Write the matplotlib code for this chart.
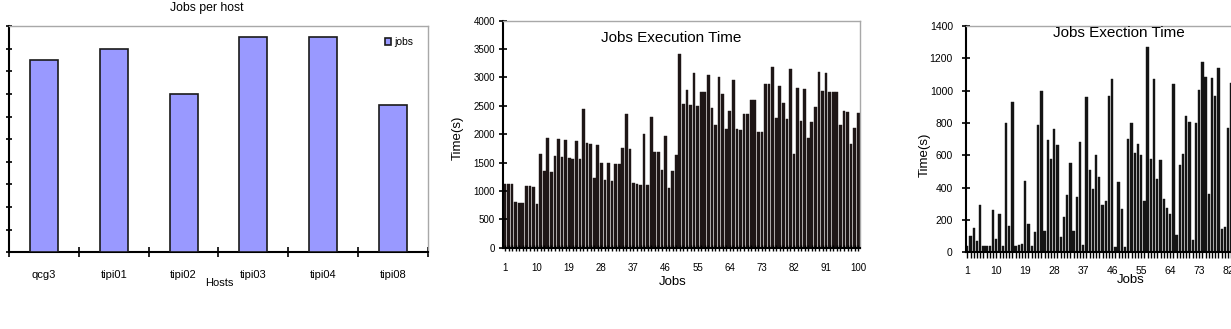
import matplotlib
matplotlib.use('Agg')
import matplotlib.pyplot as plt
import numpy as np

W, H = 1231, 329
plt.rcParams['font.family'] = ['Liberation Sans', 'DejaVu Sans']

# ---------------- data ----------------
hosts = ['qcg3', 'tipi01', 'tipi02', 'tipi03', 'tipi04', 'tipi08']
jobs_per_host = [17, 18, 14, 19, 19, 13]

exec_time_a = [
    1120, 1120, 1120, 800, 790, 790, 1080, 1080, 1075, 765,
    1655, 1350, 1930, 1330, 1610, 1920, 1595, 1900, 1580, 1570,
    1880, 1560, 2450, 1840, 1830, 1220, 1810, 1500, 1185, 1490,
    1180, 1470, 1470, 1760, 2350, 1745, 1135, 1125, 1110, 2010,
    1105, 2300, 1695, 1685, 1370, 1970, 1060, 1350, 1640, 3420,
    2530, 2785, 2510, 3070, 2495, 2750, 2750, 3040, 2460, 2160,
    3010, 2700, 2100, 2400, 2955, 2090, 2075, 2358, 2358, 2610,
    2605, 2033, 2030, 2887, 2885, 3190, 2285, 2858, 2545, 2268,
    3150, 1648, 2812, 2240, 2800, 1925, 2210, 2475, 3090, 2762,
    3078, 2750, 2740, 2735, 2162, 2410, 2398, 1820, 2105, 2365,
]

exec_time_b = [
    40, 100, 150, 70, 290, 40, 40, 40, 260, 85,
    235, 40, 800, 160, 930, 40, 45, 50, 440, 175,
    40, 125, 790, 995, 130, 695, 580, 760, 665, 95,
    220, 355, 550, 130, 345, 680, 45, 960, 510, 390,
    605, 465, 290, 320, 965, 1075, 35, 435, 265, 35,
    700, 800, 612, 670, 605, 315, 1270, 580, 1075, 452,
    572, 330, 277, 240, 1040, 110, 540, 608, 843, 808,
    77, 801, 1003, 1175, 1085, 358, 1080, 968, 1142, 143,
    158, 770, 1048,
]

n_jobs = 100
job_tick_labels = [1, 10, 19, 28, 37, 46, 55, 64, 73, 82, 91, 100]

# ---------------- helpers ----------------
fig = plt.figure(figsize=(W / 100, H / 100), dpi=100)


def ax_px(l, t, r, b):
    return fig.add_axes([l / W, 1 - b / H, (r - l) / W, (b - t) / H])


def ftext(x, y, s, **kw):
    fig.text(x / W, 1 - y / H, s, ha='center', va='center', **kw)


GRAY = '#a8a8a8'


def style_spines(ax):
    ax.spines['left'].set_color('black')
    ax.spines['left'].set_linewidth(1.5)
    ax.spines['bottom'].set_color('black')
    ax.spines['bottom'].set_linewidth(1.5)
    ax.spines['top'].set_color(GRAY)
    ax.spines['right'].set_color(GRAY)
    ax.spines['top'].set_linewidth(1.0)
    ax.spines['right'].set_linewidth(1.0)


# ---------------- panel 1 ----------------
ax1 = ax_px(9.3, 26, 427.7, 252.3)
xh = np.arange(len(hosts))
ax1.bar(xh, jobs_per_host, width=0.4, color='#9999ff', edgecolor='#1a1a1a',
        linewidth=1.2, label='jobs', zorder=3)
ax1.set_xlim(-0.5, len(hosts) - 0.5)
ax1.set_ylim(0, 20)
ax1.set_yticks(range(0, 21, 2))
ax1.set_yticklabels([])
ax1.set_xticks(np.arange(-0.5, len(hosts), 1.0))
ax1.set_xticklabels([])
ax1.set_xticks(xh, minor=True)
ax1.set_xticklabels(hosts, minor=True)
ax1.tick_params(axis='y', direction='inout', length=5, width=1.2)
ax1.tick_params(axis='x', which='major', direction='inout', length=6.5, width=1.2)
ax1.tick_params(axis='x', which='minor', length=0, pad=12.5, labelsize=8)
style_spines(ax1)
ax1.legend(loc='upper left', bbox_to_anchor=(385 / W, 1 - 37 / H),
           bbox_transform=fig.transFigure, frameon=False, fontsize=7.5,
           handlelength=0.6, handleheight=0.6, handletextpad=0.25,
           borderpad=0, borderaxespad=0)
ftext(207, 7.5, 'Jobs per host', fontsize=8.8)
ftext(219, 283, 'Hosts', fontsize=8)

# ---------------- panel 2 ----------------
ax2 = ax_px(503.2, 20.7, 860, 247.7)
xj = np.arange(1, len(exec_time_a) + 1)
ax2.bar(xj, exec_time_a, width=0.76, color='#1e1616', edgecolor='#1e1616',
        linewidth=0.3)
ax2.set_xlim(0.5, n_jobs + 0.5)
ax2.set_ylim(0, 4000)
ax2.set_yticks(range(0, 4001, 500))
ax2.set_xticks(np.arange(1, n_jobs + 1))
ax2.set_xticklabels([str(i) if i in job_tick_labels else ''
                     for i in range(1, n_jobs + 1)])
ax2.tick_params(axis='x', direction='inout', length=5, width=1.0, pad=8.5,
                labelsize=7)
ax2.tick_params(axis='y', direction='inout', length=6, width=1.2, pad=3,
                labelsize=7)
style_spines(ax2)
ftext(671, 38, 'Jobs Execution Time', fontsize=11)
ftext(673, 282, 'Jobs', fontsize=9.5)
ftext(458, 138, 'Time(s)', rotation=90, fontsize=9.5)

# ---------------- panel 3 ----------------
ax3 = ax_px(965.7, 26, 1287.7, 252.3)
xk = np.arange(1, len(exec_time_b) + 1)
ax3.bar(xk, exec_time_b, width=0.72, color='#141414', edgecolor='#141414',
        linewidth=0.3)
ax3.set_xlim(0.5, n_jobs + 0.5)
ax3.set_ylim(0, 1400)
ax3.set_yticks(range(0, 1401, 200))
ax3.set_xticks(np.arange(1, n_jobs + 1))
ax3.set_xticklabels([str(i) if i in job_tick_labels else ''
                     for i in range(1, n_jobs + 1)])
ax3.tick_params(axis='x', direction='out', length=4, width=1.0, pad=6,
                labelsize=7.5)
ax3.tick_params(axis='y', direction='inout', length=5.5, width=1.2, pad=6.5,
                labelsize=7.5)
style_spines(ax3)
ftext(1118.7, 33.3, 'Jobs Exection Time', fontsize=11)
ftext(1130.5, 280, 'Jobs', fontsize=9.5)
ftext(925, 155, 'Time(s)', rotation=90, fontsize=9.5)

fig.savefig('out.png', dpi=100)
